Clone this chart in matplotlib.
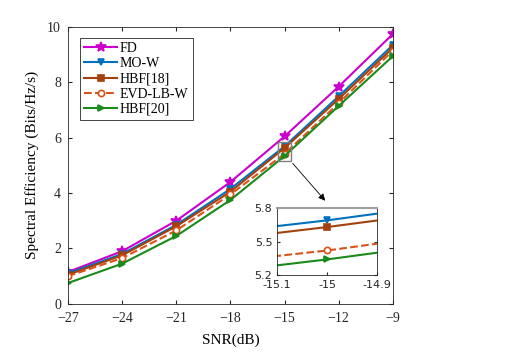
import matplotlib
matplotlib.use("Agg")
import matplotlib.pyplot as plt
import numpy as np

plt.rcParams['font.family'] = ['Liberation Serif', 'DejaVu Serif']
plt.rcParams['mathtext.fontset'] = 'stix'

# DATA
snr = [-27, -24, -21, -18, -15, -12, -9]
fd = [1.15, 1.90, 3.00, 4.40, 6.05, 7.85, 9.75]
mo_w = [1.10, 1.80, 2.85, 4.15, 5.69, 7.50, 9.35]
hbf18 = [1.05, 1.75, 2.80, 4.05, 5.63, 7.40, 9.25]
evd = [1.00, 1.65, 2.65, 3.95, 5.42, 7.25, 9.15]
hbf20 = [0.75, 1.45, 2.45, 3.75, 5.34, 7.15, 8.95]
labels = ['FD', 'MO-W', 'HBF[18]', 'EVD-LB-W', 'HBF[20]']
xticks = [-27, -24, -21, -18, -15, -12, -9]
yticks = [0, 2, 4, 6, 8, 10]

colors = ['#CC00CC', '#0072BD', '#A2400F', '#D95319', '#1A8A1A']
styles = [dict(marker='*', ms=7, ls='-'),
          dict(marker='v', ms=5, ls='-'),
          dict(marker='s', ms=4, ls='-'),
          dict(marker='o', ms=4.5, ls='--', mfc='white'),
          dict(marker='>', ms=5, ls='-')]
series = [fd, mo_w, hbf18, evd, hbf20]

fig = plt.figure(figsize=(5.26, 3.60), dpi=100)
ax = fig.add_axes([0.129, 0.156, 0.618, 0.769])
for y, c, st, lab in zip(series, colors, styles, labels):
    ax.plot(snr, y, color=c, lw=1.5, label=lab, mew=1.2, **st)
ax.set_xlim(-27, -9)
ax.set_ylim(0, 10)
ax.set_xticks(xticks)
ax.set_yticks(yticks)
ax.set_xlabel('SNR(dB)', fontsize=11, labelpad=6)
ax.set_ylabel('Spectral Efficiency (Bits/Hz/s)', fontsize=11, labelpad=6)
ax.tick_params(direction='in', labelsize=10, colors='#262626', length=3,
               top=True, right=True)
ax.tick_params(axis='x', pad=6)
ax.tick_params(axis='y', pad=5)
for s in ax.spines.values():
    s.set_color('#262626')
    s.set_linewidth(0.6)
leg = ax.legend(loc='upper left', fontsize=10, handlelength=2.4,
                borderpad=0.3, labelspacing=0.15, handletextpad=0.2,
                fancybox=False, edgecolor='#262626', framealpha=1,
                bbox_to_anchor=(0.015, 0.985))
leg.get_frame().set_linewidth(0.6)

# zoom box on main axes
ax.add_patch(plt.Rectangle((-15.35, 5.15), 0.7, 0.68, fill=False,
                           ec='#808080', lw=1, zorder=5))

# inset
axi = fig.add_axes([0.527, 0.236, 0.19, 0.186])
for y, c, st in zip(series, colors, styles):
    axi.plot(snr, y, color=c, lw=1.5, mew=1.2, **st)
axi.set_xlim(-15.1, -14.9)
axi.set_ylim(5.2, 5.8)
axi.set_xticks([-15.1, -15, -14.9])
axi.set_xticklabels(['-15.1', '-15', '-14.9'])
axi.set_yticks([5.2, 5.5, 5.8])
axi.tick_params(direction='in', labelsize=8, colors='#262626', length=2,
                right=True)
for lab in axi.get_xticklabels() + axi.get_yticklabels():
    lab.set_family('DejaVu Sans')
for s in axi.spines.values():
    s.set_color('#262626')
    s.set_linewidth(0.6)
axi.spines['top'].set_color('#A0A0A0')
axi.spines['top'].set_linewidth(1.5)

ax.annotate('', xy=(-12.65, 3.65), xytext=(-14.65, 5.15),
            arrowprops=dict(arrowstyle='-|>', color='black', lw=0.6,
                            mutation_scale=10))

fig.savefig('out.png', dpi=100)
